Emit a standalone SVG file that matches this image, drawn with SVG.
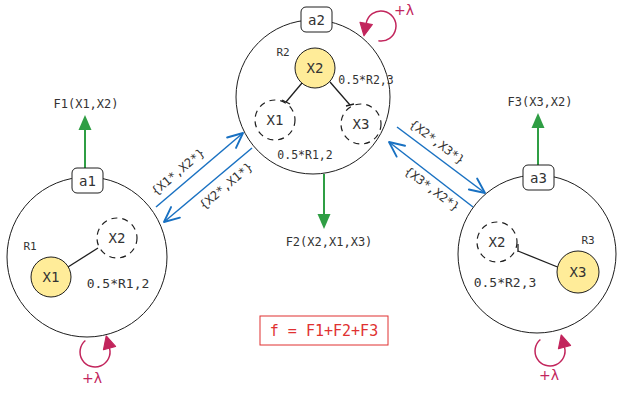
<svg xmlns="http://www.w3.org/2000/svg" width="619" height="394" viewBox="0 0 619 394">
<defs>
<marker id="openBlue" markerUnits="userSpaceOnUse" markerWidth="20" markerHeight="20" viewBox="-14 -8 16 16" refX="0" refY="0" orient="auto">
<path d="M-12,-5.5 L0,0 L-12,5.5" fill="none" stroke="#1971c2" stroke-width="1.5" stroke-linecap="round" stroke-linejoin="round"/>
</marker>
<marker id="crimson" markerUnits="userSpaceOnUse" markerWidth="16" markerHeight="16" viewBox="-1 -7 13 14" refX="0" refY="0" orient="auto">
<path d="M0,-5.5 L11,0 L0,5.5 Z" fill="#c2255c" stroke="#c2255c" stroke-width="1" stroke-linejoin="round"/>
</marker>
</defs>
<style>
.big{fill:#ffffff;stroke:#1e1e1e;stroke-width:1}
.sp{fill:#ffec99;stroke:#1e1e1e;stroke-width:1}
.dash{fill:none;stroke:#1e1e1e;stroke-width:1.2;stroke-dasharray:6 5}
.box{fill:#ffffff;stroke:#1e1e1e;stroke-width:1}
.ln{stroke:#1e1e1e;stroke-width:1.3;fill:none}
.t{font-family:"DejaVu Sans Mono","Liberation Mono",monospace;fill:#333333;text-anchor:middle;dominant-baseline:central}
.x{font-size:14px}
.r{font-size:11px}
.lab{font-size:14px}
.f{font-size:12px}
.bl{stroke:#1971c2;stroke-width:1.5;fill:none}
.gr{stroke:#2f9e44;stroke-width:2;fill:none}
.gh{fill:#2f9e44}
.loop{stroke:#c2255c;stroke-width:1.5;fill:none}
.lam{font-family:"DejaVu Sans","Liberation Sans",sans-serif;font-size:14px;fill:#c2255c;text-anchor:middle;dominant-baseline:central}
</style>

<g id="connectors">
<!-- blue exchanges -->
<path class="bl" d="M156,207 L243,133" marker-end="url(#openBlue)"/>
<path class="bl" d="M252,148 L164,222" marker-end="url(#openBlue)"/>
<path class="bl" d="M397,127 L485,193" marker-end="url(#openBlue)"/>
<path class="bl" d="M473,207 L389,142" marker-end="url(#openBlue)"/>
<!-- green outputs -->
<path class="gr" d="M85,168 L85,129"/>
<path class="gh" d="M85,115 L91.5,130 L78.5,130 Z"/>
<path class="gr" d="M538,165 L538,127"/>
<path class="gh" d="M538,113 L544.5,128 L531.5,128 Z"/>
<path class="gr" d="M324,174 L324,215"/>
<path class="gh" d="M324,229 L330.5,214 L317.5,214 Z"/>
<!-- self loops -->
<path class="loop" d="M378.4,40.8 A15,15 0 1 0 366.2,23.4" marker-end="url(#crimson)"/>
<path class="loop" d="M85.4,340.5 A15,15 0 1 0 109.5,348.1" marker-end="url(#crimson)"/>
<path class="loop" d="M540.4,339.5 A15,15 0 1 0 564.5,347.1" marker-end="url(#crimson)"/>
</g>

<g id="a1">
<circle class="big" cx="87" cy="257" r="80"/>
<rect class="box" x="72" y="168" width="31" height="25" rx="5"/>
<text class="t lab" x="87.5" y="180.5">a1</text>
<text class="t r" x="30" y="246">R1</text>
<line class="ln" x1="68" y1="267" x2="98" y2="248"/>
<circle class="sp" cx="51" cy="277" r="20"/>
<text class="t x" x="51" y="277">X1</text>
<circle class="dash" cx="117" cy="238" r="20"/>
<text class="t x" x="117" y="238">X2</text>
<text class="t" style="font-size:13px" x="118" y="283">0.5*R1,2</text>
</g>

<g id="a2">
<circle class="big" cx="313" cy="97" r="77"/>
<rect class="box" x="301" y="7" width="31" height="25" rx="5"/>
<text class="t lab" x="316.5" y="19.5">a2</text>
<text class="t r" x="283" y="52">R2</text>
<line class="ln" x1="302" y1="83" x2="286" y2="102"/>
<line class="ln" x1="282" y1="100" x2="290" y2="104"/>
<line class="ln" x1="330" y1="82" x2="350" y2="105"/>
<line class="ln" x1="346" y1="106" x2="354" y2="104"/>
<circle class="sp" cx="315" cy="68" r="20"/>
<text class="t x" x="315" y="68">X2</text>
<circle class="dash" cx="275" cy="120" r="20"/>
<text class="t x" x="275" y="120">X1</text>
<circle class="dash" cx="361" cy="124" r="20"/>
<text class="t x" x="361" y="124">X3</text>
<text class="t" style="font-size:11.5px" x="366" y="80">0.5*R2,3</text>
<text class="t" style="font-size:11.5px" x="305" y="155">0.5*R1,2</text>
</g>

<g id="a3">
<circle class="big" cx="537" cy="254" r="79"/>
<rect class="box" x="523" y="165" width="31" height="25" rx="5"/>
<text class="t lab" x="538.5" y="177.5">a3</text>
<text class="t r" x="588" y="240">R3</text>
<line class="ln" x1="518" y1="251" x2="560" y2="268"/>
<line class="ln" x1="518" y1="244" x2="518" y2="252"/>
<circle class="dash" cx="497" cy="242" r="20"/>
<text class="t x" x="497" y="242">X2</text>
<circle class="sp" cx="578" cy="272" r="21"/>
<text class="t x" x="578" y="272">X3</text>
<text class="t" style="font-size:13px" x="505" y="282">0.5*R2,3</text>
</g>

<g id="labels">
<text class="t f" x="86" y="104">F1(X1,X2)</text>
<text class="t f" x="540" y="102">F3(X3,X2)</text>
<text class="t f" x="329" y="242">F2(X2,X1,X3)</text>
<text class="t f" transform="translate(178,172) rotate(-40)">{X1*,X2*}</text>
<text class="t f" transform="translate(226,186) rotate(-40)">{X2*,X1*}</text>
<text class="t f" transform="translate(437,142) rotate(37)">{X2*,X3*}</text>
<text class="t f" transform="translate(432,189) rotate(37)">{X3*,X2*}</text>
<text class="lam" x="404" y="10">+λ</text>
<text class="lam" x="92" y="378">+λ</text>
<text class="lam" x="549" y="375">+λ</text>
</g>

<g id="formula">
<rect x="260" y="316" width="128" height="29" fill="none" stroke="#e03131" stroke-width="1"/>
<text class="t" style="font-size:15px;fill:#e03131" x="324" y="331">f = F1+F2+F3</text>
</g>
</svg>
